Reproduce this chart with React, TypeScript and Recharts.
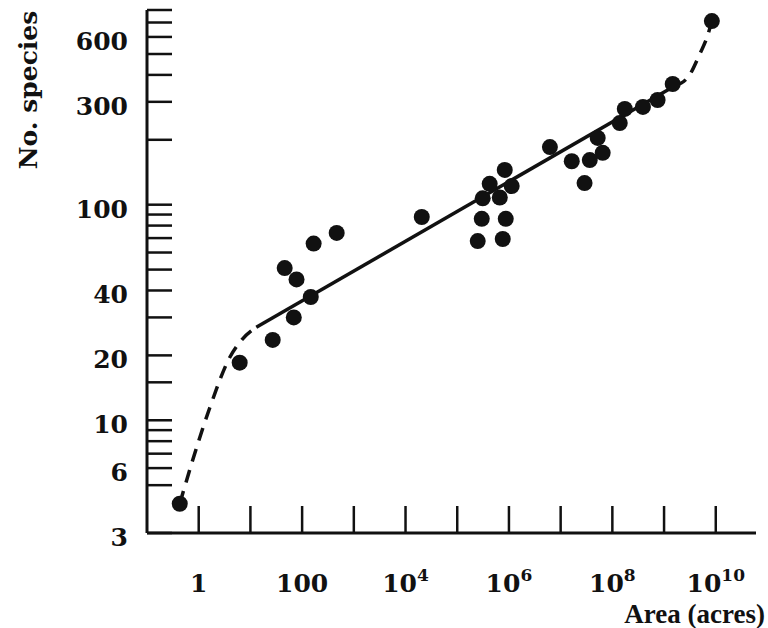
import { ComposedChart, Line, Scatter, XAxis, YAxis } from "recharts";

// island / region area in acres and number of species found there
const areaAcres = [
  0.43, 6.2, 27, 69, 147, 78, 46, 167, 466, 20600, 298000, 867000, 249000,
  759000, 830000, 424000, 311000, 665000, 1130000, 6.2e6, 1.64e7, 3.66e7,
  5.2e7, 6.5e7, 2.9e7, 1.39e8, 1.74e8, 3.9e8, 7.5e8, 1.47e9, 8.4e9,
];
const speciesCount = [
  4.1, 18.5, 23.6, 30, 37.3, 45, 50.8, 66, 74, 87.7, 86, 86, 67.8, 69.3, 145,
  125, 107, 108, 122, 185, 159, 161, 204, 174, 126, 239, 278, 284, 306, 363,
  711,
];

// fitted straight part and the dashed ends
const fitArea = [13, 1.6e9];
const fitSpecies = [27, 355];
const lowArea = [0.43, 0.73, 1.63, 4.0, 6.8, 13];
const lowSpecies = [4.1, 6.3, 11.4, 19.6, 23.6, 27];
const highArea = [1.6e9, 3.1e9, 4.9e9, 6.7e9, 8.4e9];
const highSpecies = [355, 399, 500, 593, 711];

const xTicks = [1, 10, 100, 1e3, 1e4, 1e5, 1e6, 1e7, 1e8, 1e9, 1e10];
const xLabelled = [1, 100, 1e4, 1e6, 1e8, 1e10];
const yTicks = [
  3, 5, 6, 7, 8, 9, 10, 15, 20, 30, 40, 50, 60, 70, 80, 90, 100, 200, 300, 400,
  500, 600, 700, 800,
];
const yLabelled = [3, 6, 10, 20, 40, 100, 300, 600];

const INK = "#111";
const FONT = "'DejaVu Serif', serif";
const TITLE_FONT = "'Liberation Serif', serif";

const zip = (xs: number[], ys: number[]) => xs.map((x, i) => ({ x, y: ys[i] }));

function XTick({ x, y, payload }: any) {
  const v = payload.value as number;
  const exp = Math.round(Math.log10(v));
  const show = xLabelled.includes(v);
  return (
    <g>
      <line x1={x} x2={x} y1={y} y2={y - 27} stroke={INK} strokeWidth={2.5} />
      {show &&
        (exp <= 2 ? (
          <text x={x} y={y + 59} textAnchor="middle" fontFamily={FONT} fontWeight="bold" fontSize={25} fill={INK}>
            {String(v)}
          </text>
        ) : (
          <text x={x} y={y + 59} textAnchor="middle" fontFamily={FONT} fontWeight="bold" fontSize={25} fill={INK}>
            <tspan>10</tspan>
            <tspan dy={-11} fontSize={17}>
              {exp}
            </tspan>
          </text>
        ))}
    </g>
  );
}

function YTick({ x, y, payload }: any) {
  const v = payload.value as number;
  const show = yLabelled.includes(v);
  return (
    <g>
      <line x1={x} x2={x + 25} y1={y} y2={y} stroke={INK} strokeWidth={2.5} />
      {show && (
        <text x={x - 19} y={y + 13} textAnchor="end" fontFamily={FONT} fontWeight="bold" fontSize={25} fill={INK}>
          {v}
        </text>
      )}
    </g>
  );
}

const Dot = (p: any) => <circle cx={p.cx} cy={p.cy} r={8} fill={INK} />;

export default function App() {
  return (
    <div style={{ position: "absolute", left: 0, top: 0, width: 768, height: 628, background: "#fff" }}>
      <ComposedChart width={768} height={628} margin={{ top: 10, right: 12, bottom: 0, left: 0 }}>
        <XAxis
          dataKey="x"
          type="number"
          scale="log"
          domain={[0.1, 6e10]}
          allowDataOverflow
          ticks={xTicks}
          interval={0}
          tick={<XTick />}
          tickLine={false}
          tickSize={0}
          tickMargin={0}
          height={95}
          axisLine={{ stroke: INK, strokeWidth: 3 }}
          label={() => (
            <text x={765} y={623} textAnchor="end" fontFamily={TITLE_FONT} fontWeight="bold" fontSize={27} fill={INK}>
              Area (acres)
            </text>
          )}
        />
        <YAxis
          dataKey="y"
          type="number"
          scale="log"
          domain={[3, 800]}
          allowDataOverflow
          ticks={yTicks}
          interval={0}
          tick={<YTick />}
          tickLine={false}
          tickSize={0}
          tickMargin={0}
          width={147}
          axisLine={{ stroke: INK, strokeWidth: 3 }}
          label={() => (
            <text
              x={37}
              y={90}
              transform="rotate(-90 37 90)"
              textAnchor="middle"
              fontFamily={FONT}
              fontWeight="bold"
              fontSize={25}
              fill={INK}
            >
              No. species
            </text>
          )}
        />
        <Line
          data={zip(lowArea, lowSpecies)}
          dataKey="y"
          type="monotone"
          stroke={INK}
          strokeWidth={3.5}
          strokeDasharray="13 9"
          dot={false}
          isAnimationActive={false}
        />
        <Line
          data={zip(fitArea, fitSpecies)}
          dataKey="y"
          type="linear"
          stroke={INK}
          strokeWidth={3.5}
          dot={false}
          isAnimationActive={false}
        />
        <Line
          data={zip(highArea, highSpecies)}
          dataKey="y"
          type="monotone"
          stroke={INK}
          strokeWidth={3.5}
          strokeDasharray="13 9"
          dot={false}
          isAnimationActive={false}
        />
        <Scatter data={zip(areaAcres, speciesCount)} dataKey="y" shape={Dot} isAnimationActive={false} />
      </ComposedChart>
    </div>
  );
}
